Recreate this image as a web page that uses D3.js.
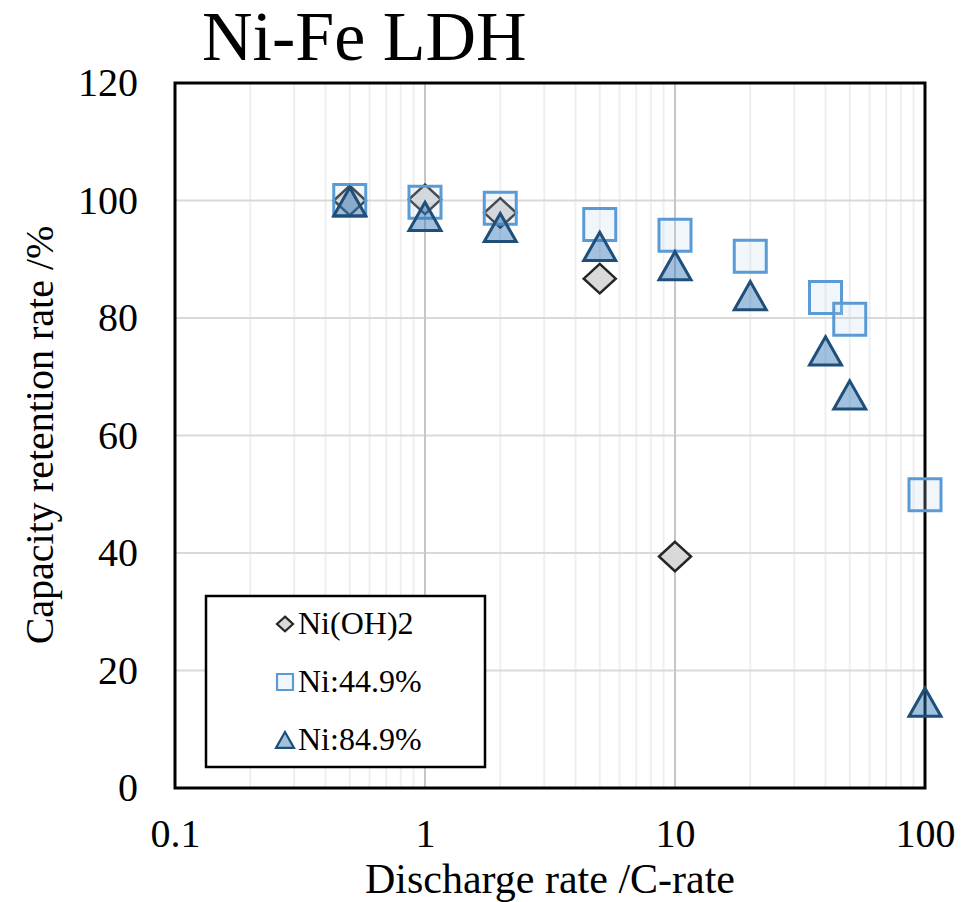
<!DOCTYPE html>
<html>
<head>
<meta charset="utf-8">
<script src="https://cdn.jsdelivr.net/npm/d3@7"></script>
<style>
  body { margin: 0; background: #fff; }
  text { font-family: "Liberation Serif", "Times New Roman", serif; fill: #000; }
</style>
</head>
<body>
<svg id="chart" width="961" height="902"></svg>
<script>
// discharge rates (C-rate) and capacity retention (%)
const ratesOH = [0.5, 1, 2, 5, 10]
const valuesOH = [100, 100.2, 97.9, 86.7, 39.4]
const rates449 = [0.5, 1, 2, 5, 10, 20, 40, 50, 100]
const values449 = [100, 99.7, 98.7, 95.9, 94.1, 90.5, 83.5, 79.8, 49.9]
const rates849 = [0.5, 1, 2, 5, 10, 20, 40, 50, 100]
const values849 = [99.8, 97.3, 95.4, 92.2, 88.9, 83.8, 74.4, 66.9, 14.6]
const seriesNames = ['Ni(OH)2', 'Ni:44.9%', 'Ni:84.9%']
const xTicks = [0.1, 1, 10, 100]
const yTicks = [0, 20, 40, 60, 80, 100, 120]

const svg = d3.select('#chart')
const plotL = 175, plotR = 925, plotT = 83, plotB = 788

const x = d3.scaleLog().domain([0.1, 100]).range([plotL, plotR])
const y = d3.scaleLinear().domain([0, 120]).range([plotB, plotT])

// minor vertical grid
let minor = []
for (let k = -1; k <= 1; k++) {
    for (let m = 2; m <= 9; m++) minor.push(m * Math.pow(10, k))
}
svg.append('g').selectAll('line').data(minor).join('line')
    .attr('x1', d => x(d)).attr('x2', d => x(d))
    .attr('y1', plotT).attr('y2', plotB)
    .attr('stroke', '#efefef').attr('stroke-width', 2)

// major horizontal grid
svg.append('g').selectAll('line').data(yTicks.slice(1, -1)).join('line')
    .attr('x1', plotL).attr('x2', plotR)
    .attr('y1', d => y(d)).attr('y2', d => y(d))
    .attr('stroke', '#d9d9d9').attr('stroke-width', 2)

// major vertical grid
svg.append('g').selectAll('line').data(xTicks.slice(1, -1)).join('line')
    .attr('x1', d => x(d)).attr('x2', d => x(d))
    .attr('y1', plotT).attr('y2', plotB)
    .attr('stroke', '#c6c6c6').attr('stroke-width', 2)

// axes (labels only)
let xAxis = svg.append('g')
    .attr('transform', 'translate(0,' + plotB + ')')
    .call(d3.axisBottom(x).tickValues(xTicks).tickSize(0).tickPadding(31)
        .tickFormat(d => d < 1 ? '0.1' : String(d)))
let yAxis = svg.append('g')
    .attr('transform', 'translate(' + plotL + ',0)')
    .call(d3.axisLeft(y).tickValues(yTicks).tickSize(0).tickPadding(37))
svg.selectAll('.domain').remove()
svg.selectAll('.tick text')
    .attr('font-family', '"Liberation Serif", serif')
    .attr('font-size', '40px')
    .attr('fill', '#000')

// plot border
svg.append('rect')
    .attr('x', plotL).attr('y', plotT)
    .attr('width', plotR - plotL).attr('height', plotB - plotT)
    .attr('fill', 'none').attr('stroke', '#000').attr('stroke-width', 3)

// marker shapes
function diamond(s) {
    let w = s / 2, h = s * 0.46
    return 'M0,' + (-h) + 'L' + w + ',0L0,' + h + 'L' + (-w) + ',0Z'
}
function triangle(s) {
    let w = s / 2, h = s * 0.44
    return 'M0,' + (-h) + 'L' + w + ',' + h + 'L' + (-w) + ',' + h + 'Z'
}
function square(s) {
    let w = s / 2
    return 'M' + (-w) + ',' + (-w) + 'H' + w + 'V' + w + 'H' + (-w) + 'Z'
}

const styles = [
    { path: diamond, size: 32, fill: '#d9d9d9', stroke: '#262626', sw: 2.5 },
    { path: square, size: 32, fill: 'rgba(189,215,238,0.22)', stroke: '#5b9bd5', sw: 3 },
    { path: triangle, size: 32, fill: 'rgba(46,117,182,0.45)', stroke: '#1f4e79', sw: 3 }
]
const allSeries = [
    d3.zip(ratesOH, valuesOH),
    d3.zip(rates449, values449),
    d3.zip(rates849, values849)
]

allSeries.forEach(function(data, i) {
    let st = styles[i]
    svg.append('g').selectAll('path').data(data).join('path')
        .attr('transform', d => 'translate(' + x(d[0]) + ',' + y(d[1]) + ')')
        .attr('d', st.path(st.size))
        .attr('fill', st.fill)
        .attr('stroke', st.stroke)
        .attr('stroke-width', st.sw)
})

// legend
let legend = svg.append('g')
legend.append('rect')
    .attr('x', 206).attr('y', 596).attr('width', 279).attr('height', 171)
    .attr('fill', '#fff').attr('stroke', '#000').attr('stroke-width', 2.5)
seriesNames.forEach(function(name, i) {
    let st = styles[i]
    let cy = 624 + i * 58
    legend.append('path')
        .attr('transform', 'translate(285,' + cy + ')')
        .attr('d', st.path(i === 2 ? 18 : 16))
        .attr('fill', st.fill)
        .attr('stroke', st.stroke)
        .attr('stroke-width', 2.2)
    legend.append('text')
        .attr('x', 298).attr('y', cy + 10)
        .attr('font-size', '32px')
        .text(name)
})

// titles
svg.append('text')
    .attr('x', 202).attr('y', 60)
    .attr('font-size', '70px')
    .text('Ni-Fe LDH')

svg.append('text')
    .attr('x', (plotL + plotR) / 2).attr('y', 893)
    .attr('text-anchor', 'middle')
    .attr('font-size', '42px')
    .text('Discharge rate /C-rate')

svg.append('text')
    .attr('transform', 'translate(53,435) rotate(-90)')
    .attr('text-anchor', 'middle')
    .attr('font-size', '40px')
    .text('Capacity retention rate /%')
</script>
</body>
</html>
